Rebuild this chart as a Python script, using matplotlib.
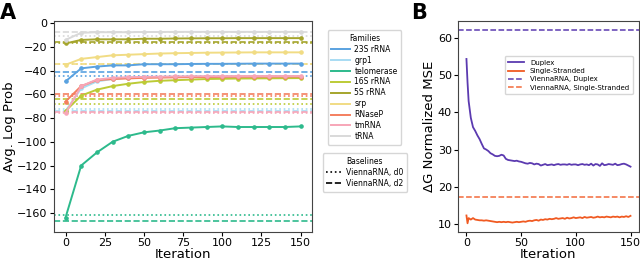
import numpy as np
import matplotlib
matplotlib.use("Agg")
import matplotlib.pyplot as plt
from matplotlib.lines import Line2D

# ---- panel A data: avg log prob per family, every 10 iterations ----
iters_a = np.arange(0, 151, 10)
families = ["23S rRNA", "grp1", "telomerase", "16S rRNA", "5S rRNA",
            "srp", "RNaseP", "tmRNA", "tRNA"]
fam_colors = ["#5aa2e0", "#a8dcf3", "#2dba8c", "#bccb36", "#a5a52c",
              "#f1dc84", "#f47f5f", "#f7a6b8", "#d9d9d9"]
logprob = {
    "23S rRNA":   [-49, -38, -36.5, -35.5, -35.5, -34.5, -34.5, -34.5, -34.3, -34.2, -34.2, -34.1, -34.0, -34.0, -34.0, -34.0],
    "grp1":       [-74, -55, -49, -47, -46, -45.5, -45.3, -45.2, -45.0, -45.0, -45.0, -44.9, -44.9, -44.9, -44.9, -44.9],
    "telomerase": [-164, -120, -109, -100, -95, -92, -90.5, -88.5, -88, -87.5, -87, -87.5, -87.5, -87.5, -87.5, -87],
    "16S rRNA":   [-74, -61, -56, -53, -51, -49.5, -48.5, -48, -47.5, -47, -46.8, -46.6, -46.5, -46.4, -46.3, -46.2],
    "5S rRNA":    [-17, -14, -13.5, -13.5, -13.5, -13, -13, -12.8, -12.7, -12.6, -12.6, -12.5, -12.5, -12.5, -12.5, -12.5],
    "srp":        [-35, -30, -28.5, -27, -26.5, -26, -25.5, -25.2, -25, -24.8, -24.7, -24.6, -24.5, -24.5, -24.5, -24.5],
    "RNaseP":     [-66, -53, -48, -47, -46.5, -46, -45.8, -45.6, -45.4, -45.3, -45.2, -45.1, -45.1, -45.0, -45.0, -45.0],
    "tmRNA":      [-76, -53, -47.5, -46, -45.5, -45.2, -45, -44.8, -44.7, -44.6, -44.6, -44.5, -44.5, -44.5, -44.5, -44.5],
    "tRNA":       [-14, -8, -7.5, -7.5, -7.5, -7.3, -7.3, -7.2, -7.2, -7.2, -7.2, -7.2, -7.2, -7.2, -7.2, -7.2],
}
vienna_d0 = [-44.5, -72.3, -162, -68.5, -16.3, -34.5, -61.7, -75.6, -10.7]
vienna_d2 = [-41, -74, -167, -64, -15.7, -34, -59.5, -74.5, -7.6]

# ---- panel B data: dG normalized MSE ----
iters_b = [0, 1] + list(range(2, 151, 2))
duplex = [54.3, 48, 43, 38.5, 36, 35, 33.8, 32.8, 31.5, 30.3, 30, 29.6, 29, 28.7, 28.3,
          28.2, 28.3, 28.6, 28.4, 27.5, 27.2, 27.1, 27.0, 26.9, 27.0, 26.8, 26.7, 26.5,
          26.3, 26.2, 26.4, 26.3, 26.0, 26.2, 26.1, 25.7, 25.9, 26.1, 25.8, 25.9, 26.0,
          25.8, 26.0, 26.1, 25.9, 26.0, 26.0, 25.9, 26.1, 25.9, 26.0, 26.0, 25.8, 26.0,
          26.1, 25.9, 26.0, 25.8, 26.2, 25.7, 26.1, 26.0, 25.6, 26.3, 25.8, 25.9, 26.1,
          26.0, 25.9, 26.2, 25.8, 25.9, 26.1, 26.2, 26.0, 25.7, 25.4]
single = [12.3, 10.2, 11.6, 11.2, 11.6, 11.2, 11.1, 11.0, 11.0, 10.9, 11.0, 10.9, 10.8,
          10.7, 10.6, 10.5, 10.6, 10.5, 10.6, 10.5, 10.6, 10.5, 10.4, 10.5, 10.6, 10.5,
          10.6, 10.7, 10.6, 10.8, 10.9, 10.8, 11.0, 11.1, 10.9, 11.2, 11.1, 11.3, 11.2,
          11.4, 11.3, 11.4, 11.6, 11.4, 11.5, 11.6, 11.4, 11.7, 11.5, 11.6, 11.8, 11.6,
          11.7, 11.8, 11.6, 11.9, 11.7, 11.8, 11.9, 11.7, 11.8, 12.0, 11.8, 11.9, 11.8,
          12.0, 11.9, 11.8, 12.0, 11.9, 12.0, 11.8, 12.0, 11.9, 12.1, 11.9, 12.2]
vienna_duplex = 62.0
vienna_single = 17.2

plt.rcParams["font.family"] = "DejaVu Sans"
fig = plt.figure(figsize=(6.4, 2.62), dpi=100)

# panel A
ax = fig.add_axes([0.084, 0.115, 0.404, 0.805])
for fam, col, d0, d2 in zip(families, fam_colors, vienna_d0, vienna_d2):
    ax.axhline(d0, color=col, ls=":", lw=1.2)
    ax.axhline(d2, color=col, ls="--", lw=1.2)
for fam, col in zip(families, fam_colors):
    ax.plot(iters_a, logprob[fam], color=col, lw=1.4, marker="o", ms=2.3)
ax.set_xlim(-7.5, 157.5)
ax.set_ylim(-176, 2)
ax.set_xticks([0, 25, 50, 75, 100, 125, 150])
ax.tick_params(labelsize=8, length=3, pad=1.5)
ax.set_xlabel("Iteration", fontsize=9.5, labelpad=0)
ax.set_ylabel("Avg. Log Prob", fontsize=9.5, labelpad=1)
for s in ax.spines.values():
    s.set_color("#444444")

fam_handles = [Line2D([], [], color=c, lw=1.4) for c in fam_colors]
fig.legend(handles=fam_handles, labels=families, title="Families",
           loc="upper left", bbox_to_anchor=(0.506, 0.9), fontsize=5.5,
           title_fontsize=5.5, handlelength=2.4, labelspacing=0.25,
           borderpad=0.5, handletextpad=0.6)
base_handles = [Line2D([], [], color="black", ls=":", lw=1.2),
                Line2D([], [], color="black", ls="--", lw=1.2)]
fig.legend(handles=base_handles, labels=["ViennaRNA, d0", "ViennaRNA, d2"],
           title="Baselines", loc="upper left", bbox_to_anchor=(0.498, 0.43),
           fontsize=5.5, title_fontsize=5.5, handlelength=2.0, labelspacing=0.25,
           borderpad=0.5, handletextpad=0.6)

# panel B
bx = fig.add_axes([0.716, 0.115, 0.282, 0.805])
bx.plot(iters_b, duplex, color="#5b3ab0", lw=1.3, label="Duplex")
bx.plot(iters_b, single, color="#f05a22", lw=1.3, label="Single-Stranded")
bx.axhline(vienna_duplex, color="#5b3ab0", ls="--", lw=1.1, label="ViennaRNA, Duplex")
bx.axhline(vienna_single, color="#f26a3a", ls="--", lw=1.1, label="ViennaRNA, Single-Stranded")
bx.set_xlim(-7.5, 157.5)
bx.set_ylim(7.9, 64.5)
bx.set_xticks([0, 50, 100, 150])
bx.set_yticks([10, 20, 30, 40, 50, 60])
bx.tick_params(labelsize=8, length=3, pad=1.5)
bx.set_xlabel("Iteration", fontsize=9.5, labelpad=0)
bx.set_ylabel("ΔG Normalized MSE", fontsize=9.5, labelpad=1)
for s in bx.spines.values():
    s.set_color("#444444")
bx.legend(loc="upper right", bbox_to_anchor=(0.985, 0.85), fontsize=5,
          handlelength=2.3, labelspacing=0.35, borderpad=0.5)

fig.text(0.0, 0.99, "A", fontsize=15, fontweight="bold", va="top", ha="left")
fig.text(0.643, 0.99, "B", fontsize=15, fontweight="bold", va="top", ha="left")

fig.savefig("out.png", dpi=100)
